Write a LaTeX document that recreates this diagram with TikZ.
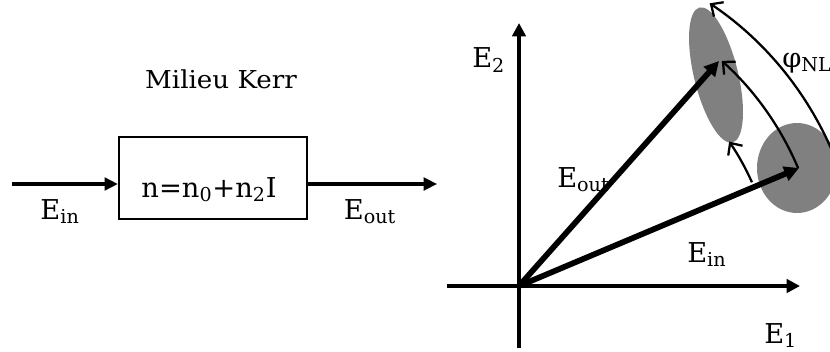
\documentclass[tikz,border=0pt]{standalone}
\usepackage{fontspec}
\setmainfont{DejaVu Serif}
\newfontfamily\ttlfont[FakeStretch=1.06]{DejaVu Serif}
\usetikzlibrary{arrows.meta}
\begin{document}
\begin{tikzpicture}[x=0.75pt,y=0.75pt,
  lbl/.style={font=\fontsize{20.5}{24}\selectfont, inner sep=0pt},
  ttl/.style={font=\ttlfont\fontsize{18.5}{22}\selectfont, inner sep=0pt},
  box/.style={draw, line width=1.7pt, minimum width=141pt, minimum height=61.5pt, inner sep=0pt},
  flow/.style={line width=2.3pt, -{Triangle[length=10pt,width=9.5pt]}},
  ax/.style={line width=2.5pt, -{Triangle[length=10pt,width=10pt]}},
  vec/.style={line width=4.3pt, -{Triangle[length=11pt,width=11pt]}},
  rot/.style={line width=1.7pt, -{Straight Barb[length=7pt,width=13pt]}},
  blob/.style={fill=gray}
]
\useasboundingbox (0,0) rectangle (830,351);
% left part
\node[ttl] (title) at (221,272) {Milieu Kerr};
\node[box] (kerr) at (213,173) {};
\node[lbl, anchor=base] (eq) at (209,154) {n=n\textsubscript{0}+n\textsubscript{2}I};
\coordinate (inL) at (12,167);
\coordinate (outR) at (437,167);
\draw[flow] (inL) -- (inL -| kerr.west);
\draw[flow] (outR -| kerr.east) -- (outR);
\node[lbl, anchor=base] (einL) at (60,132) {E\textsubscript{in}};
\node[lbl, anchor=base] (eoutL) at (370,132) {E\textsubscript{out}};
% right part
\coordinate (O) at (519,65);
\fill[blob, rotate around={103.7:(716,276)}] (716,276) ellipse [x radius=69.5, y radius=22];
\fill[blob] (797,183) ellipse [x radius=40, y radius=45];
\coordinate (xL) at (447,65);
\coordinate (xR) at (800,65);
\coordinate (yB) at (519,3);
\coordinate (yT) at (519,328);
\draw[ax] (xL) -- (xR);
\draw[ax] (yB) -- (yT);
\coordinate (Ein) at (799,183);
\coordinate (Eout) at (719,290);
\draw[vec] (O) -- (Ein);
\draw[vec] (O) -- (Eout);
\draw[rot] ([shift={(O)}]22.9:303) arc[start angle=22.9, end angle=48, radius=303];
\draw[rot] ([shift={(O)}]24:255) arc[start angle=24, end angle=34.5, radius=255];
\draw[rot] ([shift={(O)}]15:341) arc[start angle=15, end angle=56, radius=341];
\node[lbl, anchor=base west] (e2) at (472,283) {E\textsubscript{2}};
\node[lbl, anchor=base west] (e1) at (764,8) {E\textsubscript{1}};
\node[lbl, anchor=base west] (eoutR) at (557,164) {E\textsubscript{out}};
\node[lbl, anchor=base west] (einR) at (687,89) {E\textsubscript{in}};
\node[lbl, anchor=base west] (phi) at (782,284) {φ\textsubscript{NL}};
\end{tikzpicture}
\end{document}
